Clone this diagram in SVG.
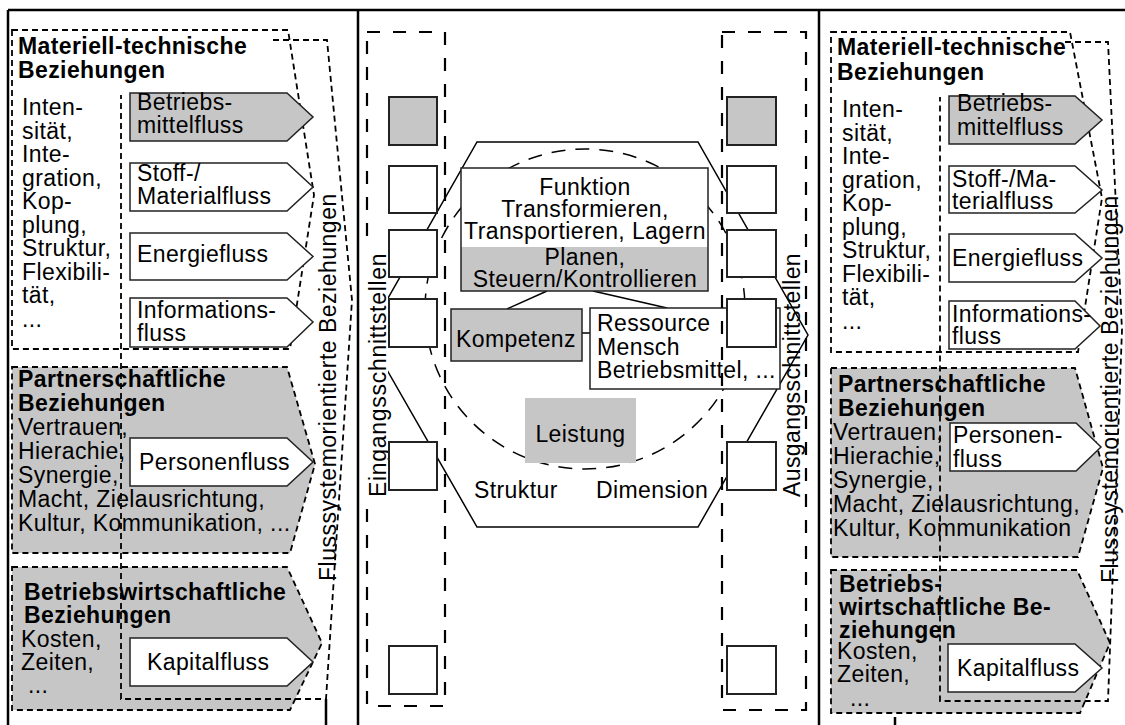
<svg xmlns="http://www.w3.org/2000/svg" width="1125" height="725" viewBox="0 0 1125 725">
<style>
.t{font-family:"Liberation Sans",Arial,sans-serif;font-size:23px;letter-spacing:0.4px;fill:#000}
.b{font-weight:bold}
.g{fill:#c6c6c6}
.w{fill:#fff}
.d{fill:none;stroke:#000;stroke-width:1.8;stroke-dasharray:6 4}
.dg{stroke:#000;stroke-width:1.8;stroke-dasharray:6 4}
.ar{stroke:#222;stroke-width:1.5}
.sq{fill:#fff;stroke:#222;stroke-width:2}
.fr{fill:none;stroke:#000;stroke-width:2.5}
.ln{fill:none;stroke:#000;stroke-width:1.5}
.bd{fill:none;stroke:#000;stroke-width:2.2;stroke-dasharray:13 13}
.rot{font-size:23px;letter-spacing:0.5px}
</style>
<rect width="1125" height="725" fill="#fff"/>
<g id="frame">
<path class="fr" d="M8,10 H1125 M8,10 V725 M358,10 V725 M819,10 V725"/>
<path class="fr" d="M326,699 V725 M895,717 V725"/>
</g>

<!-- LEFT PANEL -->
<g id="left-panel">
<g id="l-materiell">
<path class="d" d="M12,30 H288 L314,195 L290,349 H12 Z"/>
<text class="t b"><tspan x="18" y="54">Materiell-technische</tspan><tspan x="18" y="78">Beziehungen</tspan></text>
<text class="t"><tspan x="22" y="115">Inten-</tspan><tspan x="22" y="138.5">sität,</tspan><tspan x="22" y="162">Inte-</tspan><tspan x="22" y="185.5">gration,</tspan><tspan x="22" y="209">Kop-</tspan><tspan x="22" y="232.5">plung,</tspan><tspan x="22" y="256">Struktur,</tspan><tspan x="22" y="279.5">Flexibili-</tspan><tspan x="22" y="303">tät,</tspan><tspan x="22" y="326.5">...</tspan></text>
</g>
<g id="l-partner">
<path class="g dg" d="M12,367 H287 L315,464 L290,553 H12 Z"/>
<text class="t b"><tspan x="18" y="387">Partnerschaftliche</tspan><tspan x="18" y="411">Beziehungen</tspan></text>
<text class="t"><tspan x="18" y="435">Vertrauen,</tspan><tspan x="18" y="459">Hierachie,</tspan><tspan x="18" y="482.5">Synergie,</tspan><tspan x="18" y="506.5">Macht, Zielausrichtung,</tspan><tspan x="18" y="530.5">Kultur, Kommunikation, ...</tspan></text>
</g>
<g id="l-bwl">
<path class="g dg" d="M12,567 H287 L322,643 L290,710 H12 Z"/>
<text class="t b"><tspan x="24" y="600">Betriebswirtschaftliche</tspan><tspan x="24" y="623">Beziehungen</tspan></text>
<text class="t"><tspan x="21" y="647">Kosten,</tspan><tspan x="21" y="670">Zeiten,</tspan><tspan x="28" y="693">...</tspan></text>
</g>
<g id="l-fluss-frame">
<path class="d" d="M273,40 H327 L352,300 L326,699 H121 V95"/>
<text class="t rot" transform="translate(336,581) rotate(-90)">Flusssystemorientierte Beziehungen</text>
</g>
<g id="l-betriebsmittelfluss">
<path class="g ar" d="M130,93 H287 L313,117 L287,141 H130 Z"/>
<text class="t"><tspan x="137" y="110">Betriebs-</tspan><tspan x="137" y="133">mittelfluss</tspan></text>
</g>
<g id="l-materialfluss">
<path class="w ar" d="M130,163 H287 L313,187 L287,211 H130 Z"/>
<text class="t"><tspan x="137" y="181">Stoff-/</tspan><tspan x="137" y="204">Materialfluss</tspan></text>
</g>
<g id="l-energiefluss">
<path class="w ar" d="M130,233 H287 L313,256.5 L287,280 H130 Z"/>
<text class="t" x="137" y="262">Energiefluss</text>
</g>
<g id="l-informationsfluss">
<path class="w ar" d="M130,298 H287 L313,322 L287,347 H130 Z"/>
<text class="t"><tspan x="137" y="318">Informations-</tspan><tspan x="137" y="341">fluss</tspan></text>
</g>
<g id="l-personenfluss">
<path class="w ar" d="M130,438 H287 L313,462 L287,486 H130 Z"/>
<text class="t" x="139" y="470">Personenfluss</text>
</g>
<g id="l-kapitalfluss">
<path class="w ar" d="M130,638 H287 L313,662 L287,686 H130 Z"/>
<text class="t" x="147" y="670">Kapitalfluss</text>
</g>
</g>

<!-- CENTER PANEL -->
<g id="center-panel">
<g id="c-struktur">
<path class="ln" d="M477,142 H698 L808,335 L698,527 H477 L367,335 Z"/>
<circle cx="585" cy="309" r="160" fill="none" stroke="#000" stroke-width="1.5" stroke-dasharray="14 10"/>
<text class="t" x="474" y="498">Struktur</text>
<text class="t" x="596" y="498">Dimension</text>
</g>
<g id="connectors">
<path class="ln" d="M547,291 L507,309 M593,291 L667,308 M582,333 H590"/>
</g>
<g id="c-funktion">
<rect x="461" y="168" width="247" height="123" class="w"/>
<rect x="461" y="247" width="247" height="44" class="g"/>
<rect x="461" y="168" width="247" height="123" fill="none" stroke="#222" stroke-width="1.5"/>
<text class="t" text-anchor="middle"><tspan x="585" y="195">Funktion</tspan><tspan x="585" y="217">Transformieren,</tspan><tspan x="585" y="239">Transportieren, Lagern</tspan><tspan x="585" y="265">Planen,</tspan><tspan x="585" y="287">Steuern/Kontrollieren</tspan></text>
</g>
<g id="c-kompetenz">
<rect x="451" y="309" width="131" height="52" class="g" stroke="#222" stroke-width="1.5"/>
<text class="t" x="456" y="347">Kompetenz</text>
</g>
<g id="c-ressource">
<rect x="590" y="308" width="190" height="81" class="w" stroke="#222" stroke-width="1.5"/>
<text class="t"><tspan x="597" y="331">Ressource</tspan><tspan x="597" y="354.5">Mensch</tspan><tspan x="597" y="378">Betriebsmittel, ...</tspan></text>
</g>
<g id="c-leistung">
<rect x="525" y="398" width="111" height="65" class="g"/>
<text class="t" x="580.5" y="442" text-anchor="middle">Leistung</text>
</g>
<g id="c-eingang">
<rect class="bd" x="367" y="32" width="78" height="674"/>
<rect x="363" y="249" width="25" height="248" fill="#fff"/>
<text class="t" style="letter-spacing:0.7px" transform="translate(386,497) rotate(-90)">Eingangsschnittstellen</text>
<rect class="sq" x="389" y="97" width="48" height="48" style="fill:#c6c6c6"/>
<rect class="sq" x="389" y="166" width="48" height="47"/>
<rect class="sq" x="389" y="230" width="48" height="47"/>
<rect class="sq" x="389" y="299" width="48" height="48"/>
<rect class="sq" x="389" y="442" width="48" height="48"/>
<rect class="sq" x="389" y="646" width="48" height="48"/>
</g>
<g id="c-ausgang">
<rect class="bd" x="722" y="32" width="84" height="678"/>
<text class="t" transform="translate(800,497) rotate(-90)">Ausgangsschnittstellen</text>
<rect class="sq" x="727" y="97" width="49" height="48" style="fill:#c6c6c6"/>
<rect class="sq" x="727" y="166" width="49" height="47"/>
<rect class="sq" x="727" y="230" width="49" height="47"/>
<rect class="sq" x="727" y="299" width="49" height="48"/>
<rect class="sq" x="727" y="442" width="49" height="48"/>
<rect class="sq" x="727" y="646" width="49" height="48"/>
</g>
</g>

<!-- RIGHT PANEL -->
<g id="right-panel">
<g id="r-materiell">
<path class="d" d="M831,32 H1070 L1102,198 L1078,352 H831 Z"/>
<text class="t b"><tspan x="837" y="55">Materiell-technische</tspan><tspan x="837" y="80">Beziehungen</tspan></text>
<text class="t"><tspan x="842" y="117">Inten-</tspan><tspan x="842" y="140.5">sität,</tspan><tspan x="842" y="164">Inte-</tspan><tspan x="842" y="187.5">gration,</tspan><tspan x="842" y="211">Kop-</tspan><tspan x="842" y="234.5">plung,</tspan><tspan x="842" y="258">Struktur,</tspan><tspan x="842" y="281.5">Flexibili-</tspan><tspan x="842" y="305">tät,</tspan><tspan x="842" y="328.5">...</tspan></text>
</g>
<g id="r-partner">
<path class="g dg" d="M831,368 H1075 L1103,468 L1078,557 H831 Z"/>
<text class="t b"><tspan x="838" y="392">Partnerschaftliche</tspan><tspan x="838" y="416">Beziehungen</tspan></text>
<text class="t"><tspan x="833" y="440">Vertrauen,</tspan><tspan x="833" y="464">Hierachie,</tspan><tspan x="833" y="488">Synergie,</tspan><tspan x="833" y="512">Macht, Zielausrichtung,</tspan><tspan x="833" y="536">Kultur, Kommunikation</tspan></text>
</g>
<g id="r-bwl">
<path class="g dg" d="M831,570 H1077 L1110,643 L1080,713 H831 Z"/>
<text class="t b"><tspan x="839" y="592">Betriebs-</tspan><tspan x="839" y="615">wirtschaftliche Be-</tspan><tspan x="839" y="638">ziehungen</tspan></text>
<text class="t"><tspan x="837" y="659">Kosten,</tspan><tspan x="837" y="682">Zeiten,</tspan><tspan x="850" y="706">...</tspan></text>
</g>
<g id="r-fluss-frame">
<path class="d" d="M1065,42 H1108 L1122,330 L1108,701 H940 V97"/>
<text class="t rot" transform="translate(1118,583) rotate(-90)">Flusssystemorientierte Beziehungen</text>
</g>
<g id="r-betriebsmittelfluss">
<path class="g ar" d="M949,96 H1075 L1102,120 L1075,144 H949 Z"/>
<text class="t"><tspan x="957" y="111">Betriebs-</tspan><tspan x="957" y="135">mittelfluss</tspan></text>
</g>
<g id="r-materialfluss">
<path class="w ar" d="M949,166 H1075 L1102,190 L1075,213 H949 Z"/>
<text class="t"><tspan x="952" y="187">Stoff-/Ma-</tspan><tspan x="952" y="209">terialfluss</tspan></text>
</g>
<g id="r-energiefluss">
<path class="w ar" d="M949,234 H1075 L1102,258 L1075,282 H949 Z"/>
<text class="t" x="952" y="266">Energiefluss</text>
</g>
<g id="r-informationsfluss">
<path class="w ar" d="M949,301 H1075 L1100,326 L1075,349 H949 Z"/>
<text class="t"><tspan x="952" y="322">Informations-</tspan><tspan x="952" y="344">fluss</tspan></text>
</g>
<g id="r-personenfluss">
<path class="w ar" d="M950,423 H1076 L1101,447 L1076,471 H950 Z"/>
<text class="t"><tspan x="953" y="443">Personen-</tspan><tspan x="953" y="467">fluss</tspan></text>
</g>
<g id="r-kapitalfluss">
<path class="w ar" d="M948,644 H1075 L1102,668 L1075,692 H948 Z"/>
<text class="t" x="957" y="676">Kapitalfluss</text>
</g>
</g>
</svg>
